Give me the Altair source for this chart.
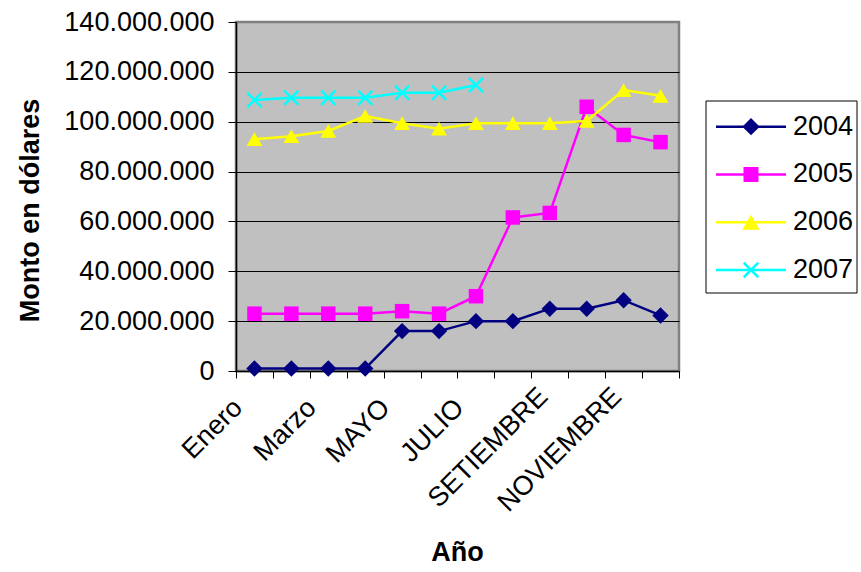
import json
import altair as alt
import pandas as pd

# Monthly amounts (US dollars) per year
meses = ["Enero", "Febrero", "Marzo", "Abril", "MAYO", "JUNIO",
         "JULIO", "AGOSTO", "SETIEMBRE", "OCTUBRE", "NOVIEMBRE", "DICIEMBRE"]
meses_rotulados = ["Enero", "Marzo", "MAYO", "JULIO", "SETIEMBRE", "NOVIEMBRE"]
meses_largos = ["SETIEMBRE", "NOVIEMBRE"]

series = ["2004", "2005", "2006", "2007"]
colores = ["#000080", "#FF00FF", "#FFFF00", "#00FFFF"]

monto_2004 = [1.0e6, 1.0e6, 1.0e6, 1.0e6, 16.0e6, 16.0e6,
              20.0e6, 20.0e6, 25.0e6, 25.0e6, 28.4e6, 22.3e6]
monto_2005 = [23.0e6, 23.0e6, 23.0e6, 23.0e6, 24.0e6, 23.0e6,
              30.0e6, 61.6e6, 63.4e6, 106.0e6, 94.7e6, 91.8e6]
monto_2006 = [93.0e6, 94.2e6, 96.3e6, 102.3e6, 99.4e6, 97.2e6,
              99.4e6, 99.4e6, 99.4e6, 100.3e6, 112.7e6, 110.4e6]
monto_2007 = [108.7e6, 109.6e6, 109.6e6, 109.6e6, 111.6e6, 111.6e6, 114.7e6]

ticks_y = [0, 20e6, 40e6, 60e6, 80e6, 100e6, 120e6, 140e6]

filas = []
for serie, valores in zip(series, [monto_2004, monto_2005, monto_2006, monto_2007]):
    for mes, v in zip(meses, valores):
        filas.append({"Mes": mes, "Serie": serie, "Monto": v})
df = pd.DataFrame(filas)
df_leyenda = pd.DataFrame({"Serie": series})

FUENTE = "Liberation Sans"

# markers: diamond, square, triangle, and an X drawn as a path
formas = ["diamond", "square", "triangle-up", "M-1,-1L1,1M-1,1L1,-1"]
tamanos_puntos = [270, 210, 250, 200]
tamanos_leyenda = [300, 225, 300, 210]
rellenos = [True, True, True, False]

prueba_largos = " || ".join(f"datum.value == '{m}'" for m in meses_largos)

x_enc = alt.X(
    "Mes:N",
    sort=meses,
    bandPosition=0.5,
    scale=alt.Scale(type="band", paddingInner=0, paddingOuter=0),
    axis=alt.Axis(
        title="Año",
        tickBand="extent",
        tickSize=7,
        tickColor="black",
        domainColor="black",
        domainWidth=1.5,
        labelAngle=-45,
        labelAlign="right",
        labelBaseline="top",
        labelPadding={"condition": {"test": prueba_largos, "value": 5}, "value": 16},
        labelOffset={"condition": {"test": prueba_largos, "value": -16}, "value": -26},
        labelExpr="indexof(" + json.dumps(meses_rotulados) + ", datum.value) >= 0 ? datum.value : ''",
        titleX=221,
        titleY=181,
        titleBaseline="middle",
        titleAlign="center",
    ),
)

y_enc = alt.Y(
    "Monto:Q",
    scale=alt.Scale(domain=[0, 140e6], nice=False),
    axis=alt.Axis(
        title="Monto en dólares",
        values=ticks_y,
        labelExpr="replace(format(datum.value, ','), /,/g, '.')",
        tickSize=8,
        tickColor="black",
        domainColor="black",
        domainWidth=1.5,
        labelPadding=14,
        grid=True,
        gridColor={"condition": {"test": "datum.value >= 140000000", "value": "#808080"},
                   "value": "#000000"},
        gridWidth=1,
        titleX=-206,
        titleY=188,
        titleAngle=270,
        titleAlign="center",
        titleBaseline="middle",
    ),
)

escala_color = alt.Scale(domain=series, range=colores)
color_enc = alt.Color("Serie:N", scale=escala_color, legend=None)

# ---- plot area: lines plus markers ----
base = alt.Chart(df)
lineas = base.mark_line(strokeWidth=2.5).encode(x=x_enc, y=y_enc, color=color_enc)

capas_grafico = [lineas]
for serie, color, forma, tam, relleno in zip(series, colores, formas, tamanos_puntos, rellenos):
    capas_grafico.append(
        base.mark_point(shape=forma, size=tam, filled=relleno, color=color,
                        opacity=1, strokeWidth=2.5)
        .encode(x=x_enc, y=y_enc)
        .transform_filter(alt.FieldEqualPredicate(field="Serie", equal=serie))
    )
grafico = alt.layer(*capas_grafico)

# ---- legend box at the right: one row per series ----
fila_y = alt.Y(
    "Serie:N",
    sort=series,
    axis=None,
    scale=alt.Scale(type="point", domain=series, range=[104.7, 248], padding=0),
)

caja = alt.Chart(alt.Data(values=[{}])).mark_rect(
    fill="white", stroke="black", strokeWidth=1
).encode(x=alt.value(470), x2=alt.value(621), y=alt.value(79), y2=alt.value(271))

base_ley = alt.Chart(df_leyenda)
tramos = base_ley.mark_rule(strokeWidth=2.5).encode(
    x=alt.value(480), x2=alt.value(550), y=fila_y, color=color_enc
)

capas_leyenda = [caja, tramos]
for serie, color, forma, tam, relleno in zip(series, colores, formas, tamanos_leyenda, rellenos):
    capas_leyenda.append(
        base_ley.mark_point(shape=forma, size=tam, filled=relleno, color=color,
                            opacity=1, strokeWidth=2.5)
        .encode(x=alt.value(515), y=fila_y)
        .transform_filter(alt.FieldEqualPredicate(field="Serie", equal=serie))
    )

etiquetas = base_ley.mark_text(
    align="left", baseline="middle", font=FUENTE, fontSize=27, color="black"
).encode(x=alt.value(557), y=fila_y, text="Serie:N")
capas_leyenda.append(etiquetas)

leyenda = alt.layer(*capas_leyenda)

chart = (
    alt.layer(grafico, leyenda)
    .resolve_scale(y="independent")
    .properties(
        width=443,
        height=349,
        autosize=alt.AutoSizeParams(type="none"),
        padding={"left": 236, "top": 22, "right": 182, "bottom": 201},
        background="white",
    )
    .configure_view(fill="#C0C0C0", stroke="#808080", strokeWidth=2.5)
    .configure_axis(
        labelFont=FUENTE,
        labelFontSize=27,
        labelColor="black",
        titleFont=FUENTE,
        titleFontSize=27,
        titleFontWeight="bold",
        titleColor="black",
    )
)

chart.save("out.html", embed_options={"renderer": "svg", "actions": False})
